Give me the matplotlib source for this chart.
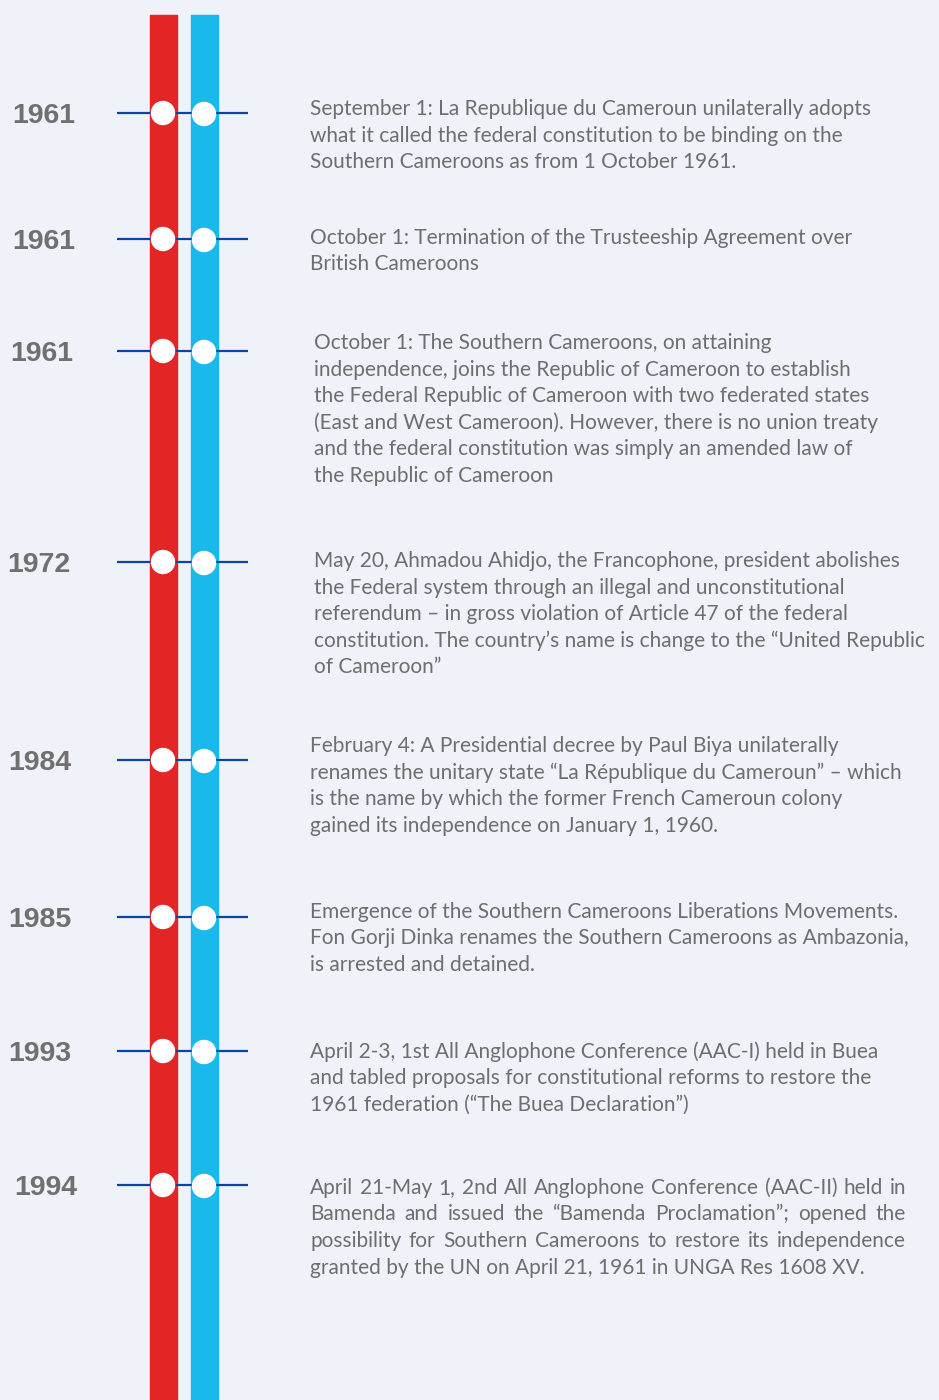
import matplotlib
matplotlib.use("Agg")
import matplotlib.pyplot as plt
from matplotlib.patches import Rectangle, Circle

# timeline data
years = ["1961", "1961", "1961", "1972", "1984", "1985", "1993", "1994"]
events = [
    ["September 1: La Republique du Cameroun unilaterally adopts",
     "what it called the federal constitution to be binding on the",
     "Southern Cameroons as from 1 October 1961."],
    ["October 1: Termination of the Trusteeship Agreement over",
     "British Cameroons"],
    ["October 1: The Southern Cameroons, on attaining",
     "independence, joins the Republic of Cameroon to establish",
     "the Federal Republic of Cameroon with two federated states",
     "(East and West Cameroon). However, there is no union treaty",
     "and the federal constitution was simply an amended law of",
     "the Republic of Cameroon"],
    ["May 20, Ahmadou Ahidjo, the Francophone, president abolishes",
     "the Federal system through an illegal and unconstitutional",
     "referendum \u2013 in gross violation of Article 47 of the federal",
     "constitution. The country\u2019s name is change to the \u201cUnited Republic",
     "of Cameroon\u201d"],
    ["February 4: A Presidential decree by Paul Biya unilaterally",
     "renames the unitary state \u201cLa R\u00e9publique du Cameroun\u201d \u2013 which",
     "is the name by which the former French Cameroun colony",
     "gained its independence on January 1, 1960."],
    ["Emergence of the Southern Cameroons Liberations Movements.",
     "Fon Gorji Dinka renames the Southern Cameroons as Ambazonia,",
     "is arrested and detained."],
    ["April 2-3, 1st All Anglophone Conference (AAC-I) held in Buea",
     "and tabled proposals for constitutional reforms to restore the",
     "1961 federation (\u201cThe Buea Declaration\u201d)"],
    ["April 21-May 1, 2nd All Anglophone Conference (AAC-II) held in",
     "Bamenda and issued the \u201cBamenda Proclamation\u201d; opened the",
     "possibility for Southern Cameroons to restore its independence",
     "granted by the UN on April 21, 1961 in UNGA Res 1608 XV."],
]
justified = [False, False, False, False, False, False, False, True]

# layout (pixel coordinates, y grows downward)
row_y = [113, 239, 351, 562, 760, 917, 1051, 1185]
year_x = [12, 12, 10, 7, 8, 8, 8, 14]
text_x = [310, 310, 314, 314, 310, 310, 310, 310]
text_y = [108, 237, 342, 560, 745, 911, 1051, 1187]
line_h = 26.5
just_right = 906

BG = "#eff2f8"
RED = "#e32526"
BLUE = "#19b9ec"
NAVY = "#0b45a3"
GREY = "#6e6e6e"

fig = plt.figure(figsize=(9.39, 14), dpi=100, facecolor=BG)
ax = fig.add_axes([0, 0, 1, 1])
ax.set_xlim(0, 939)
ax.set_ylim(1400, 0)
ax.set_aspect("equal")
ax.axis("off")
ax.set_facecolor(BG)

ax.add_patch(Rectangle((150, 15), 27, 1400, color=RED, zorder=1))
ax.add_patch(Rectangle((191, 15), 27, 1400, color=BLUE, zorder=1))

body = dict(fontsize=15.0, color=GREY, family=["Lato", "DejaVu Sans"], va="center")
renderer = fig.canvas.get_renderer()


def justify(words, x0, x1, y):
	# place words one by one so the line fills x0..x1
	items = [ax.text(x0, y, w, ha="left", **body) for w in words]
	widths = [t.get_window_extent(renderer).width for t in items]
	gap = (x1 - x0 - sum(widths)) / max(len(words) - 1, 1)
	x = x0
	for t, w in zip(items, widths):
		t.set_x(x)
		x += w + gap


for i, yr in enumerate(years):
	y = row_y[i]
	ax.plot([117, 248], [y, y], color=NAVY, lw=1.6, zorder=2, solid_capstyle="butt")
	ax.add_patch(Circle((163, y), 11.5, color="white", zorder=3))
	ax.add_patch(Circle((204, y + 1), 11.5, color="white", zorder=3))
	ax.text(year_x[i], y + 10, yr, fontsize=20.5, fontweight="bold", color="#707070",
			family=["Liberation Sans", "DejaVu Sans"], ha="left", va="baseline")
	lines = events[i]
	for j, ln in enumerate(lines):
		ly = text_y[i] + 1 + j * line_h
		if justified[i] and j < len(lines) - 1:
			justify(ln.split(" "), text_x[i], just_right, ly)
		else:
			ax.text(text_x[i], ly, ln, ha="left", **body)

fig.savefig("out.png", dpi=100, facecolor=BG)
